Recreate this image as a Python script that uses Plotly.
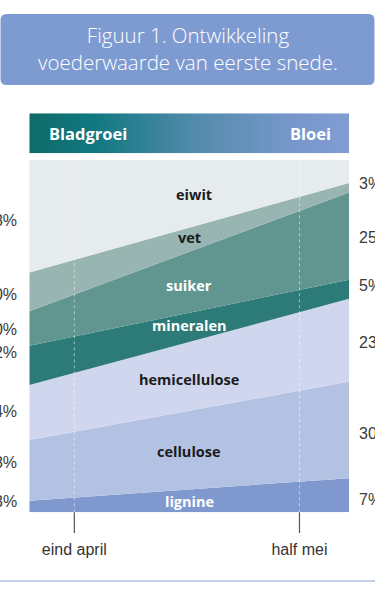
import plotly.graph_objects as go

# ---- data ----
componenten = ["lignine", "cellulose", "hemicellulose", "mineralen", "suiker", "vet", "eiwit"]
dagen = [-3.0, 18.3]  # days relative to end of April (left and right edge of the chart)
aandeel_begin = [3.3, 17.2, 15.6, 11.2, 9.8, 11.0, 31.9]   # % at left edge
aandeel_eind = [9.7, 27.4, 23.5, 5.4, 24.8, 2.7, 6.6]      # % at right edge
kleuren = ["#7f99cf", "#b3c2e3", "#d1d6ef", "#2d7b78", "#60968f", "#98b5b2", "#e6ebee"]
label_kleur = ["white", "#1b1b1b", "#1b1b1b", "white", "white", "#1b1b1b", "#1b1b1b"]
label_y = [3.0, 17.2, 37.8, 53.0, 64.5, 77.9, 90.1]
label_x = [7.65, 7.65, 7.65, 7.65, 7.65, 7.65, 8.0]

links_tekst = ["3%", "18%", "14%", "12%", "10%", "10%", "28%"]
links_y = [3.0, 14.2, 28.6, 45.5, 51.9, 61.9, 82.7]
rechts_tekst = ["7%", "30%", "23%", "5%", "25%", "3%"]
rechts_y = [3.5, 22.5, 48.3, 64.5, 78.1, 93.3]

tick_dagen = [0, 15]
tick_labels = ["eind april", "half mei"]

fase_labels = ["Bladgroei", "Bloei"]
titel_regels = ["Figuur 1. Ontwikkeling", "voederwaarde van eerste snede."]

W, H = 375, 600
X0, X1 = 29.3, 349.0
Y_TOP, Y_BOT = 160.0, 512.3

fig = go.Figure()

for i, naam in enumerate(componenten):
    fig.add_trace(go.Scatter(
        x=dagen, y=[aandeel_begin[i], aandeel_eind[i]],
        stackgroup="one", mode="lines", line=dict(width=0),
        fillcolor=kleuren[i], name=naam, hoverinfo="skip",
        xaxis="x", yaxis="y",
    ))

# gradient header bar
fig.add_trace(go.Scatter(
    x=[0, 1, 1, 0, 0], y=[0, 0, 1, 1, 0], mode="lines", line=dict(width=0),
    fill="toself",
    fillgradient=dict(type="horizontal", colorscale=[
        [0, "#0f6b69"], [0.2, "#0f7880"], [0.5, "#4f8aa9"], [0.8, "#7596c9"], [1, "#819dd1"]]),
    hoverinfo="skip", xaxis="x2", yaxis="y2", showlegend=False,
))

LABEL_FONT = "Open Sans"

annotations = []
for i, naam in enumerate(componenten):
    annotations.append(dict(
        x=label_x[i], y=label_y[i], xref="x", yref="y", text=naam, showarrow=False,
        font=dict(family=LABEL_FONT, size=14.5, color=label_kleur[i], weight="bold"),
        xanchor="center", yanchor="middle"))

for t, y in zip(links_tekst, links_y):
    annotations.append(dict(x=19.3 / W, y=y, xref="paper", yref="y", text=t, showarrow=False,
                            xanchor="right", yanchor="middle",
                            font=dict(family="Liberation Sans", size=16, color="#3a3a3a")))
for t, y in zip(rechts_tekst, rechts_y):
    annotations.append(dict(x=356.5 / W, y=y, xref="paper", yref="y", text=t, showarrow=False,
                            xanchor="left", yanchor="middle",
                            font=dict(family="Liberation Sans", size=16, color="#3a3a3a")))

# phase labels in gradient bar
annotations.append(dict(x=87.5 / W, y=1 - 133.5 / H, xref="paper", yref="paper", text=fase_labels[0],
                        showarrow=False, xanchor="center", yanchor="middle",
                        font=dict(family=LABEL_FONT, size=16.5, color="white", weight="bold")))
annotations.append(dict(x=310 / W, y=1 - 133.5 / H, xref="paper", yref="paper", text=fase_labels[1],
                        showarrow=False, xanchor="center", yanchor="middle",
                        font=dict(family=LABEL_FONT, size=16.5, color="white", weight="bold")))

# title (one annotation, two lines)
annotations.append(dict(x=0.5, y=1 - 48.5 / H, xref="paper", yref="paper",
                        text="<br>".join(titel_regels),
                        showarrow=False, xanchor="center", yanchor="middle",
                        font=dict(family="Open Sans", size=20.5, color="white", weight=300)))


def rounded_rect(x0, y0, x1, y1, r):
    # pixel coords (top-left origin) -> paper coords
    def px(x):
        return x / W

    def py(y):
        return 1 - y / H
    return (f"M {px(x0 + r)},{py(y0)} L {px(x1 - r)},{py(y0)} "
            f"Q {px(x1)},{py(y0)} {px(x1)},{py(y0 + r)} L {px(x1)},{py(y1 - r)} "
            f"Q {px(x1)},{py(y1)} {px(x1 - r)},{py(y1)} L {px(x0 + r)},{py(y1)} "
            f"Q {px(x0)},{py(y1)} {px(x0)},{py(y1 - r)} L {px(x0)},{py(y0 + r)} "
            f"Q {px(x0)},{py(y0)} {px(x0 + r)},{py(y0)} Z")


shapes = [
    dict(type="path", xref="paper", yref="paper", path=rounded_rect(0.5, 14, 374.5, 85, 6),
         fillcolor="#7e9bd1", line=dict(width=0), layer="below"),
    dict(type="line", xref="paper", yref="paper", x0=0, x1=1, y0=1 - 581 / H, y1=1 - 581 / H,
         line=dict(color="#c6d2ea", width=2)),
]
for d in tick_dagen:
    shapes.append(dict(type="line", xref="x", yref="y domain", x0=d, x1=d, y0=0, y1=1,
                       line=dict(color="rgba(255,255,255,0.5)", width=1, dash="dot"), layer="above"))
    shapes.append(dict(type="line", xref="x", yref="paper", x0=d, x1=d, y0=1 - 512.3 / H, y1=1 - 533 / H,
                       line=dict(color="#555555", width=1.2)))

fig.update_layout(
    width=W, height=H, margin=dict(l=0, r=0, t=0, b=0, pad=0),
    paper_bgcolor="white", plot_bgcolor="white", showlegend=False,
    xaxis=dict(domain=[X0 / W, X1 / W], range=[dagen[0], dagen[1]], tickvals=tick_dagen,
               ticktext=tick_labels, ticks="", showgrid=False, zeroline=False, showline=False,
               tickfont=dict(family="Liberation Sans", size=16, color="#333333"),
               ticklabelstandoff=26, fixedrange=True),
    yaxis=dict(domain=[1 - Y_BOT / H, 1 - Y_TOP / H], range=[0, 100], visible=False, fixedrange=True),
    xaxis2=dict(domain=[X0 / W, X1 / W], range=[0, 1], visible=False, anchor="y2", fixedrange=True),
    yaxis2=dict(domain=[1 - 153.3 / H, 1 - 113.3 / H], range=[0, 1], visible=False, anchor="x2",
                fixedrange=True),
    annotations=annotations, shapes=shapes,
)

fig.write_html("out.html", config={"displayModeBar": False},
               post_script="document.body.style.margin='0';document.body.style.overflow='hidden';")
